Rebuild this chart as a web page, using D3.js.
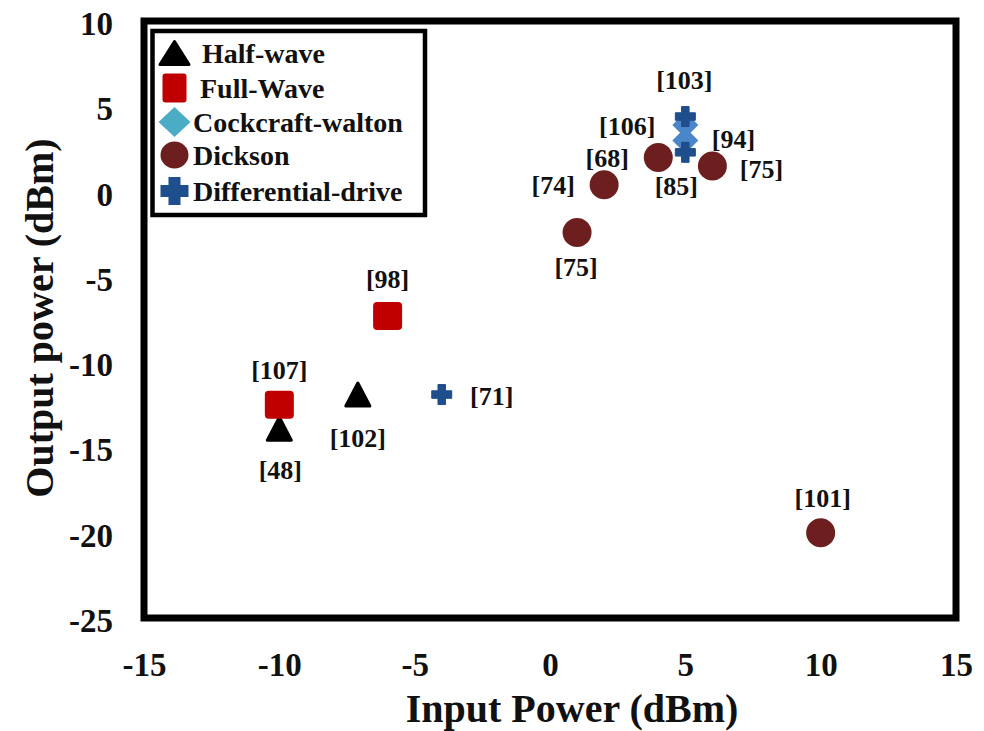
<!DOCTYPE html>
<html><head><meta charset="utf-8">
<script src="https://cdn.jsdelivr.net/npm/d3@7"></script>
<style>body{margin:0;background:#fff}svg{display:block}svg text{font-family:"Liberation Serif","Times New Roman",Times,serif !important;font-weight:bold;fill:#111}</style>
</head><body><svg id="c" width="984" height="731"></svg>
<script>
// ---- data ----
const xTicks = [-15,-10,-5,0,5,10,15];
const yTicks = [10,5,0,-5,-10,-15,-20,-25];
const seriesNames = ["Half-wave","Full-Wave","Cockcraft-walton","Dickson","Differential-drive"];
const halfWaveX = [-10,-7.1];       const halfWaveY = [-13.9,-11.9];
const fullWaveX = [-10,-6];         const fullWaveY = [-12.5,-7.3];
const cockcraftX = [5,5];           const cockcraftY = [3.9,3.0];
const dicksonX = [1,2,4,6,10];      const dicksonY = [-2.4,0.4,2.0,1.5,-20];
const diffDriveX = [5,5,-4];        const diffDriveY = [4.4,2.3,-11.9];
// reference labels: text, anchored to data point (x,y)
const refLabels = ["[48]","[102]","[107]","[98]","[75]","[68]","[74]","[106]","[94]","[75]","[103]","[85]","[71]","[101]"];
const refX = [-10,-7.1,-10,-6,1,2,2,4,6,6,5,5,-4,10];
const refY = [-13.9,-11.9,-12.5,-7.3,-2.4,0.4,0.4,2.0,1.5,1.5,4.4,2.3,-11.9,-20];
const refDx = [1,0,0,0,-1,3,-51,-31,21,49,-1,-9,50,2];
const refDy = [42,44,-34,-37,35,-26,1,-31,-27,3,-36,34,2,-34];

const FONT = '"Liberation Serif","Times New Roman",Times,serif';
const svg = d3.select("#c");
const x = d3.scaleLinear().domain([-15,15]).range([144,956]);
const y = d3.scaleLinear().domain([-25,10]).range([618,21]);

const xa = svg.append("g").attr("transform","translate(0,618)").call(d3.axisBottom(x).tickValues(xTicks).tickSize(0).tickPadding(35).tickFormat(d=>d));
xa.attr("font-family",FONT).attr("font-size",33);
xa.select(".domain").remove();
const ya = svg.append("g").attr("transform","translate(144,3)").call(d3.axisLeft(y).tickValues(yTicks).tickSize(0).tickPadding(31).tickFormat(d=>d));
ya.attr("font-family",FONT).attr("font-size",33);
ya.select(".domain").remove();

svg.append("rect").attr("x",x(-15)).attr("y",y(10)).attr("width",x(15)-x(-15)).attr("height",y(-25)-y(10))
  .attr("fill","none").attr("stroke","#000").attr("stroke-width",7);

svg.append("text").attr("x",572).attr("y",722).attr("text-anchor","middle").attr("font-size",40).text("Input Power (dBm)");
svg.append("text").attr("transform","translate(53,318) rotate(-90)").attr("text-anchor","middle").attr("font-size",40).text("Output power (dBm)");

const pts = (X,Y)=>X.map((v,i)=>({x:v,y:Y[i]}));
const g = svg.append("g");
function tri(w,h){return `M0,${-h/2}L${w/2},${h/2}L${-w/2},${h/2}Z`;}
function cross(s,t){const a=s/2,b=t/2;return `M${-b},${-a}H${b}V${-b}H${a}V${b}H${b}V${a}H${-b}V${b}H${-a}V${-b}H${-b}Z`;}

g.selectAll(".hw").data(pts(halfWaveX,halfWaveY)).join("path").attr("transform",d=>`translate(${x(d.x)},${y(d.y)})`)
  .attr("d",tri(24,23)).attr("fill","#000").attr("stroke","#000").attr("stroke-width",3).attr("stroke-linejoin","round");
g.selectAll(".fw").data(pts(fullWaveX,fullWaveY)).join("rect").attr("x",d=>x(d.x)-14.5).attr("y",d=>y(d.y)-14).attr("width",29).attr("height",28).attr("rx",4)
  .attr("fill","#C00000");
g.selectAll(".dk").data(pts(dicksonX,dicksonY)).join("circle").attr("cx",d=>x(d.x)).attr("cy",d=>y(d.y)).attr("r",14.5).attr("fill","#6D1F1F");
g.selectAll(".cw").data(pts(cockcraftX,cockcraftY)).join("path").attr("transform",d=>`translate(${x(d.x)},${y(d.y)})`)
  .attr("d","M0,-13L13,0L0,13L-13,0Z").attr("fill","#4A86C8");
g.selectAll(".dd").data(pts(diffDriveX,diffDriveY)).join("path").attr("transform",d=>`translate(${x(d.x)},${y(d.y)})`)
  .attr("d",cross(20,7.5)).attr("fill","#1F4E8C").attr("stroke","#1F4E8C").attr("stroke-width",1).attr("stroke-linejoin","round");

g.selectAll(".lb").data(refLabels.map((t,i)=>({t,x:refX[i],y:refY[i],dx:refDx[i],dy:refDy[i]}))).join("text")
  .attr("x",d=>x(d.x)+d.dx).attr("y",d=>y(d.y)+d.dy).attr("dy","0.33em")
  .attr("text-anchor","middle").attr("font-size",26).text(d=>d.t);

// legend
const lg = svg.append("g");
lg.append("rect").attr("x",152.5).attr("y",31).attr("width",272.5).attr("height",184).attr("fill","#fff").attr("stroke","#000").attr("stroke-width",4.5);
const ly = [53,88,122,155,191];
const lx = [202,200,193,193,193];
seriesNames.forEach((n,i)=>{
  const cy = ly[i], cx = 174.5;
  let m;
  if(i===0) m = lg.append("path").attr("d",tri(29,23)).attr("fill","#000").attr("stroke","#000").attr("stroke-width",3).attr("stroke-linejoin","round");
  if(i===1) m = lg.append("rect").attr("x",-12).attr("y",-14.5).attr("width",24).attr("height",29).attr("rx",3).attr("fill","#C00000");
  if(i===2) m = lg.append("path").attr("d","M0,-15L16,0L0,15L-16,0Z").attr("fill","#4BACC6");
  if(i===3) m = lg.append("ellipse").attr("rx",14).attr("ry",13.5).attr("fill","#6D1F1F");
  if(i===4) m = lg.append("path").attr("d",cross(28,12)).attr("fill","#1F4E8C");
  m.attr("transform",`translate(${cx},${cy})`);
  lg.append("text").attr("x",lx[i]).attr("y",cy+10).attr("font-size",28).text(n);
});
</script></body></html>
